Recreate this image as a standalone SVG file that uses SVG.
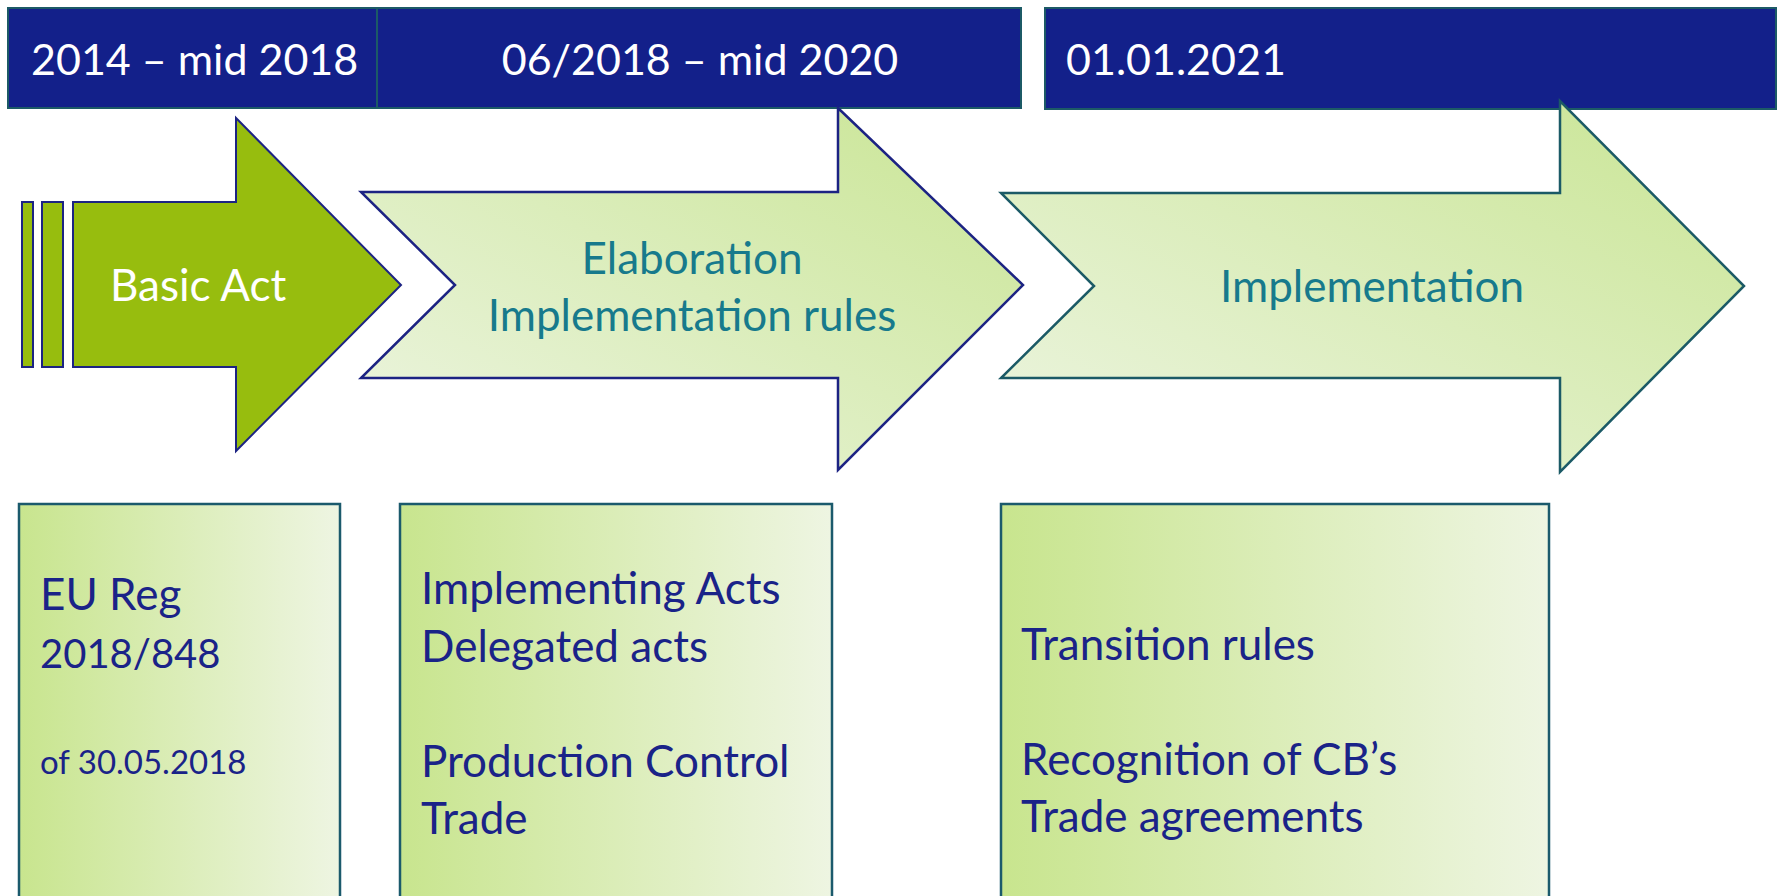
<svg xmlns="http://www.w3.org/2000/svg" width="1777" height="896" viewBox="0 0 1777 896">
<defs>
<linearGradient id="arrowGrad" x1="0" y1="1" x2="1" y2="0">
<stop offset="0" stop-color="#EDF5E2"/>
<stop offset="1" stop-color="#C9E594"/>
</linearGradient>
<linearGradient id="boxGrad" x1="0" y1="0" x2="1" y2="0">
<stop offset="0" stop-color="#C8E58E"/>
<stop offset="1" stop-color="#EEF5E2"/>
</linearGradient>
<style>
.bar{fill:#13208A;stroke:#1C5A66;stroke-width:2}
.barText{font-family:Lato,"Liberation Sans",sans-serif;font-size:43px;fill:#FFFFFF}
.box{fill:url(#boxGrad);stroke:#1B5A6C;stroke-width:2.5}
.boxText{font-family:Lato,"Liberation Sans",sans-serif;font-size:44px;fill:#1A2388}
.arrowText{font-family:Lato,"Liberation Sans",sans-serif;font-size:44px;fill:#177A8C;text-anchor:middle}
</style>
</defs>
<rect width="1777" height="896" fill="#FFFFFF"/>

<g id="bar1">
<rect class="bar" x="8" y="8" width="369" height="100"/>
<text class="barText" x="31" y="75">2014 – mid 2018</text>
</g>
<g id="bar2">
<rect class="bar" x="377" y="8" width="644" height="100"/>
<text class="barText" x="700" y="75" text-anchor="middle">06/2018 – mid 2020</text>
</g>
<g id="bar3">
<rect class="bar" x="1045" y="8" width="731" height="101"/>
<text class="barText" x="1066" y="75">01.01.2021</text>
</g>

<g id="basicAct">
<rect x="22" y="202" width="11" height="165" fill="#97BD0E" stroke="#1C2383" stroke-width="2"/>
<rect x="42" y="202" width="21" height="165" fill="#97BD0E" stroke="#1C2383" stroke-width="2"/>
<polygon points="73,202 236,202 236,118 401,285 236,451 236,367 73,367" fill="#97BD0E" stroke="#1C2383" stroke-width="2"/>
<text x="110" y="301" font-family="Lato,'Liberation Sans',sans-serif" font-size="44" fill="#FFFFFF">Basic Act</text>
</g>

<g id="elaboration">
<polygon points="361,192 838,192 838,108 1023,285 838,470 838,378 361,378 455,285" fill="url(#arrowGrad)" stroke="#1C2383" stroke-width="2.5"/>
<text class="arrowText" x="692" y="274">Elaboration</text>
<text class="arrowText" x="692" y="331">Implementation rules</text>
</g>

<g id="implementation">
<polygon points="1001,193 1560,193 1560,101 1744,286 1560,472 1560,378 1001,378 1094,286" fill="url(#arrowGrad)" stroke="#1B5A66" stroke-width="2.5"/>
<text class="arrowText" x="1372" y="302">Implementation</text>
</g>

<g id="box1">
<rect class="box" x="19" y="504" width="321" height="395"/>
<text class="boxText" x="40" y="610">EU Reg</text>
<text class="boxText" x="40" y="668" style="font-size:40px">2018/848</text>
<text class="boxText" x="40" y="774" style="font-size:33px">of 30.05.2018</text>
</g>

<g id="box2">
<rect class="box" x="400" y="504" width="432" height="395"/>
<text class="boxText" x="421" y="604">Implementing Acts</text>
<text class="boxText" x="421" y="662">Delegated acts</text>
<text class="boxText" x="421" y="777">Production  Control</text>
<text class="boxText" x="421" y="834">Trade</text>
</g>

<g id="box3">
<rect class="box" x="1001" y="504" width="548" height="395"/>
<text class="boxText" x="1021" y="660">Transition rules</text>
<text class="boxText" x="1021" y="775">Recognition of CB’s</text>
<text class="boxText" x="1021" y="832">Trade agreements</text>
</g>

<g id="connectors"></g>
</svg>
